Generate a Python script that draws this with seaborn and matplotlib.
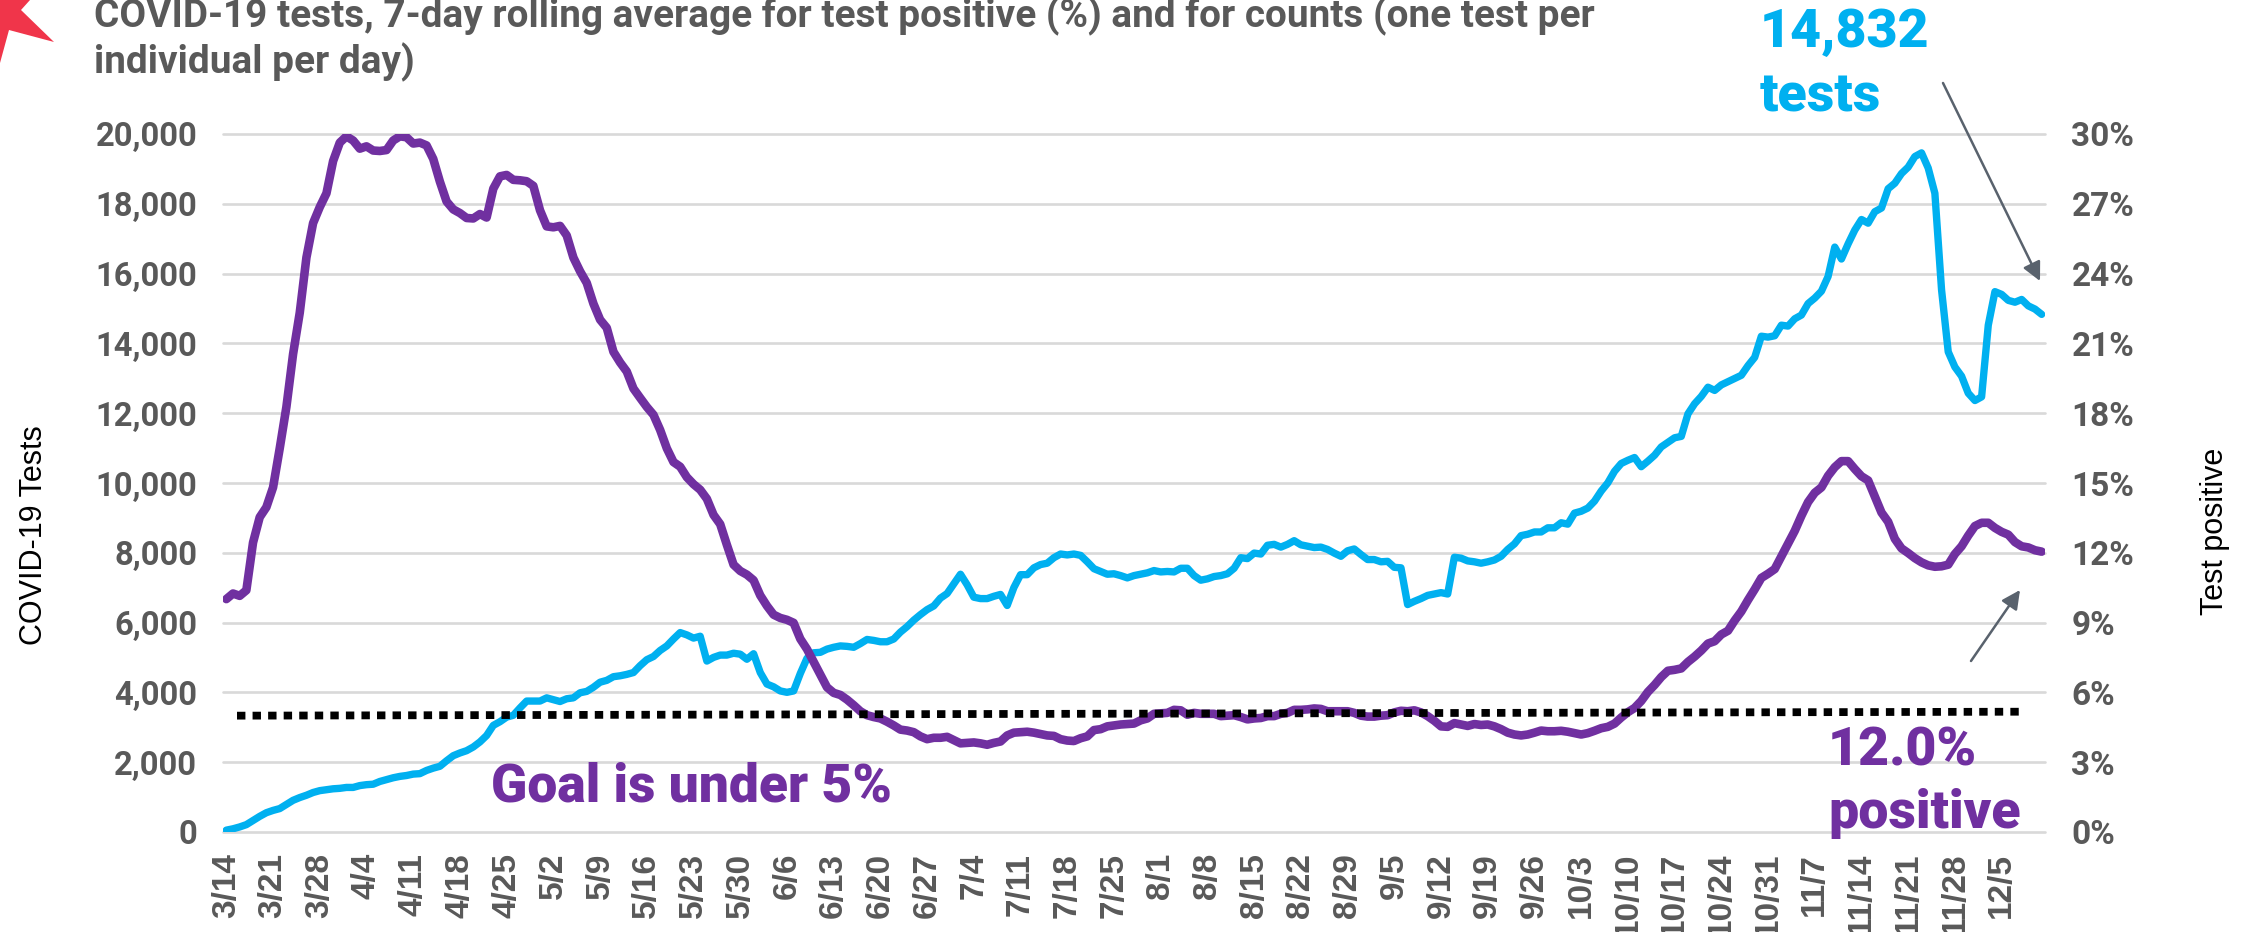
import numpy as np
import pandas as pd
import matplotlib
matplotlib.use("Agg")
import matplotlib.pyplot as plt
from matplotlib.patches import Polygon
import seaborn as sns

tests = [53,92,145,211,329,448,553,619,671,790,
 908,987,1053,1132,1185,1211,1238,1251,1277,1277,
 1330,1356,1369,1448,1501,1554,1593,1619,1659,1672,
 1764,1830,1883,2041,2186,2265,2330,2436,2581,2765,
 3055,3160,3292,3344,3555,3752,3752,3752,3844,3792,
 3739,3818,3844,3989,4029,4147,4292,4345,4450,4476,
 4516,4569,4766,4937,5029,5201,5332,5530,5714,5648,
 5556,5609,4898,5003,5069,5069,5122,5095,4950,5108,
 4569,4239,4160,4042,4002,4042,4542,4977,5135,5148,
 5240,5293,5332,5319,5293,5398,5517,5490,5451,5451,
 5530,5727,5885,6070,6228,6372,6478,6701,6833,7110,
 7386,7083,6728,6688,6688,6754,6807,6491,7004,7373,
 7373,7570,7663,7702,7860,7965,7939,7965,7926,7742,
 7544,7465,7386,7399,7347,7281,7347,7386,7426,7491,
 7452,7465,7452,7557,7557,7347,7215,7254,7320,7347,
 7399,7557,7860,7834,7992,7965,8216,8242,8163,8242,
 8347,8229,8189,8150,8163,8097,7992,7900,8058,8110,
 7952,7807,7807,7742,7755,7584,7570,6517,6609,6688,
 6780,6820,6859,6820,7873,7847,7768,7742,7702,7742,
 7794,7900,8097,8255,8492,8532,8597,8597,8716,8716,
 8861,8821,9137,9190,9282,9480,9769,10006,10335,10559,
 10651,10730,10467,10625,10796,11033,11165,11296,11336,11981,
 12271,12481,12745,12653,12811,12903,12995,13087,13363,13600,
 14206,14180,14219,14522,14496,14706,14812,15141,15299,15496,
 15918,16760,16418,16852,17247,17550,17445,17774,17879,18432,
 18590,18867,19051,19354,19459,19025,18301,15536,13758,13324,
 13061,12574,12363,12468,14522,15483,15404,15233,15180,15259,
 15075,14983,14832]

positive = [10.01,10.25,10.15,10.39,12.44,13.53,13.96,14.81,16.49,18.27,
 20.54,22.32,24.69,26.17,26.86,27.45,28.84,29.63,29.90,29.72,
 29.37,29.47,29.29,29.27,29.31,29.72,29.90,29.86,29.59,29.63,
 29.51,28.93,27.95,27.10,26.76,26.60,26.39,26.37,26.56,26.41,
 27.65,28.18,28.24,28.03,28.01,27.97,27.77,26.72,26.03,25.99,
 26.05,25.64,24.69,24.10,23.60,22.71,22.02,21.67,20.64,20.18,
 19.79,19.06,18.66,18.27,17.93,17.28,16.49,15.90,15.70,15.25,
 14.95,14.71,14.32,13.63,13.23,12.34,11.49,11.22,11.06,10.82,
 10.17,9.72,9.34,9.20,9.12,8.99,8.30,7.86,7.31,6.75,
 6.22,5.98,5.89,5.69,5.45,5.19,5.02,4.94,4.88,4.74,
 4.58,4.40,4.36,4.29,4.11,3.99,4.05,4.05,4.09,3.95,
 3.81,3.83,3.85,3.81,3.75,3.83,3.89,4.15,4.27,4.29,
 4.31,4.27,4.21,4.15,4.13,3.99,3.93,3.91,4.03,4.11,
 4.38,4.42,4.54,4.58,4.62,4.64,4.66,4.80,4.88,5.08,
 5.10,5.12,5.25,5.23,5.04,5.12,5.08,5.08,5.08,4.98,
 5.00,5.02,4.94,4.84,4.88,4.90,4.98,4.98,5.08,5.12,
 5.25,5.25,5.27,5.31,5.29,5.19,5.19,5.19,5.19,5.12,
 5.00,4.96,4.96,5.00,5.02,5.14,5.21,5.19,5.23,5.14,
 4.98,4.78,4.54,4.52,4.68,4.62,4.56,4.64,4.60,4.62,
 4.54,4.42,4.27,4.19,4.15,4.19,4.27,4.36,4.33,4.33,
 4.35,4.31,4.25,4.19,4.25,4.35,4.46,4.52,4.66,4.92,
 5.15,5.33,5.63,6.02,6.32,6.66,6.93,6.97,7.03,7.31,
 7.54,7.80,8.10,8.20,8.49,8.65,9.09,9.48,9.97,10.43,
 10.92,11.10,11.30,11.85,12.40,12.94,13.59,14.18,14.58,14.81,
 15.31,15.68,15.94,15.94,15.60,15.29,15.11,14.42,13.73,13.33,
 12.60,12.19,11.99,11.77,11.59,11.46,11.40,11.42,11.49,11.95,
 12.28,12.74,13.15,13.29,13.29,13.07,12.90,12.78,12.46,12.28,
 12.23,12.11,12.05]

week_labels = ["3/14","3/21","3/28","4/4","4/11","4/18","4/25","5/2","5/9","5/16",
 "5/23","5/30","6/6","6/13","6/20","6/27","7/4","7/11","7/18","7/25",
 "8/1","8/8","8/15","8/22","8/29","9/5","9/12","9/19","9/26","10/3",
 "10/10","10/17","10/24","10/31","11/7","11/14","11/21","11/28","12/5"]

goal_day = [1.6, 269.0]
goal_positive = [5.0, 5.17]

left_ticks = [0, 2000, 4000, 6000, 8000, 10000, 12000, 14000, 16000, 18000, 20000]
right_ticks = [0, 3, 6, 9, 12, 15, 18, 21, 24, 27, 30]

W, H = 2251, 932
GREY = "#595959"
PURPLE = "#7030A0"
BLUE = "#00B0F0"
ARROW = "#59626D"

sns.set_theme(style="white", rc={"axes.grid": False})
plt.rcParams["font.family"] = ["Roboto", "DejaVu Sans"]

def fx(x): return x / W
def fy(y): return 1 - y / H

fig = plt.figure(figsize=(W / 100, H / 100), dpi=100, facecolor="white")
ax = fig.add_axes([fx(223), fy(832), (2045 - 223) / W, (832 - 134) / H])
ax2 = ax.twinx()

days = np.arange(len(tests))
df = pd.DataFrame({"day": days, "tests": tests, "positive": positive})

for y in left_ticks:
    ax.axhline(y, color="#D9D9D9", lw=1.9, zorder=0, clip_on=False)

sns.lineplot(data=df, x="day", y="tests", ax=ax, color=BLUE, lw=5.3, zorder=3,
             errorbar=None, solid_capstyle="round", solid_joinstyle="round")
sns.lineplot(data=df, x="day", y="positive", ax=ax2, color=PURPLE, lw=6.2, zorder=3,
             errorbar=None, solid_capstyle="round", solid_joinstyle="round")
sns.lineplot(x=goal_day, y=goal_positive, ax=ax2, color="black", lw=5.6, zorder=4,
             errorbar=None, dashes=[(1.08, 0.92)], style=[0, 0], legend=False)
for ln in ax2.get_lines():
    if ln.get_color() == "black":
        ln.set_dash_capstyle("butt")

ax.set_xlim(-0.5, 272.5)
ax.set_ylim(0, 20000)
ax2.set_ylim(0, 30)
ax.set_xlabel("")
ax.set_ylabel("")
ax2.set_xlabel("")
ax2.set_ylabel("")
for a in (ax, ax2):
    for s in a.spines.values():
        s.set_visible(False)

ax.set_xticks(np.arange(len(week_labels)) * 7)
ax.set_xticklabels(week_labels, rotation=90, fontfamily="Liberation Sans",
                   fontweight="bold", fontsize=24, color=GREY)
ax.set_yticks(left_ticks)
ax.set_yticklabels([f"{v:,}" for v in left_ticks], fontfamily="Roboto",
                   fontweight="bold", fontsize=23.6, color=GREY)
ax2.set_yticks(right_ticks)
ax2.set_yticklabels([f"{v}%" for v in right_ticks], fontfamily="Roboto",
                    fontweight="bold", fontsize=24, color=GREY)
ax.tick_params(axis="x", length=0, pad=15)
ax.tick_params(axis="y", length=0, pad=18.5)
ax2.tick_params(axis="y", length=0, pad=19)

def label(x, y, s, size, color, weight="bold", family="Roboto", **kw):
    fig.text(fx(x), fy(y), s, fontsize=size, color=color, fontweight=weight,
             fontfamily=family, **kw)

label(94, 27, "COVID-19 tests, 7-day rolling average for test positive (%) and for counts (one test per", 27.9, GREY)
label(94, 73, "individual per day)", 27.9, GREY)
label(1760, 47, "14,832", 38.6, BLUE, weight="black")
label(1760, 111, "tests", 38.6, BLUE, weight="black")
label(491, 802, "Goal is under 5%", 38.4, PURPLE, weight="black")
label(1828, 765, "12.0%", 38.6, PURPLE, weight="black")
label(1828, 828, "positive", 38.6, PURPLE, weight="black")
label(34, 535, "COVID-19 Tests", 22, "black", weight="normal", family="Liberation Sans",
      rotation=90, ha="center", va="center")
label(2215, 531, "Test positive", 22, "black", weight="normal", family="Liberation Sans",
      rotation=90, ha="center", va="center")

for start, end in [((1943, 83), (2040, 281)), ((1971, 661), (2020, 590))]:
    fig.add_artist(matplotlib.patches.FancyArrowPatch(
        (fx(start[0]), fy(start[1])), (fx(end[0]), fy(end[1])),
        transform=fig.transFigure, arrowstyle="-|>", mutation_scale=28,
        color=ARROW, lw=1.8, shrinkA=0, shrinkB=0))

star = [(0, 0), (30, 0), (21, 10), (54, 42), (9, 30), (0, 63)]
fig.add_artist(Polygon([(fx(x), fy(y)) for x, y in star], closed=True,
                       transform=fig.transFigure, facecolor="#F0354A", edgecolor="none"))

assert len(tests) == len(positive) == 273, (len(tests), len(positive))
fig.savefig("out.png", dpi=100, facecolor="white")
